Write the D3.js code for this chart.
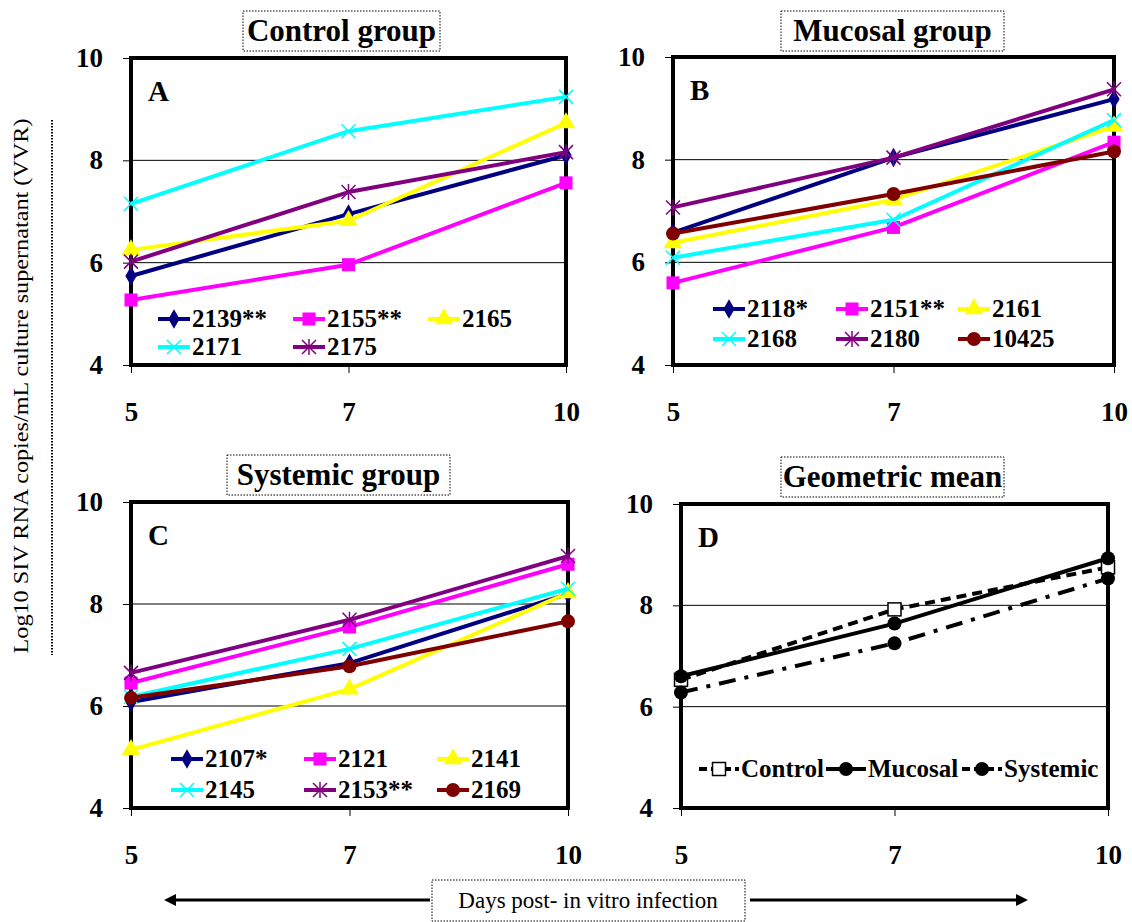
<!DOCTYPE html>
<html>
<head>
<meta charset="utf-8">
<script src="https://cdn.jsdelivr.net/npm/d3@7"></script>
<style>
  html, body { margin: 0; padding: 0; background: #fff; }
  svg { display: block; font-family: "Liberation Serif", "Times New Roman", serif; }
</style>
</head>
<body>
<svg id="chart" width="1132" height="922"></svg>
<script>
// values (log10 copies/mL)
const days = ["5", "7", "10"];
const yTicks = [4, 6, 8, 10];

const controlIds = ["2139**", "2155**", "2165", "2171", "2175"];
const controlValues = [
	[5.74, 6.95, 8.10],
	[5.27, 5.96, 7.56],
	[6.25, 6.82, 8.73],
	[7.15, 8.57, 9.24],
	[6.02, 7.38, 8.16]
];

const mucosalIds = ["2118*", "2151**", "2161", "2168", "2180", "10425"];
const mucosalValues = [
	[6.58, 8.04, 9.18],
	[5.60, 6.68, 8.34],
	[6.38, 7.22, 8.65],
	[6.09, 6.83, 8.77],
	[7.07, 8.04, 9.37],
	[6.56, 7.33, 8.16]
];

const systemicIds = ["2107*", "2121", "2141", "2145", "2153**", "2169"];
const systemicValues = [
	[6.08, 6.84, 8.20],
	[6.45, 7.55, 8.78],
	[5.14, 6.33, 8.22],
	[6.18, 7.12, 8.30],
	[6.65, 7.69, 8.94],
	[6.16, 6.78, 7.66]
];

const meanGroups = ["Control", "Mucosal", "Systemic"];
const meanValues = [
	[6.53, 7.92, 8.75],
	[6.60, 7.64, 8.93],
	[6.28, 7.25, 8.53]
];

// series styles (same order in every group panel)
const styles = [
	{color: "#000080", marker: "diamond"},
	{color: "#ff00ff", marker: "square"},
	{color: "#ffff00", marker: "triangle"},
	{color: "#00ffff", marker: "x"},
	{color: "#800080", marker: "star"},
	{color: "#800000", marker: "circle"}
];
const meanStyles = [
	{color: "#000", marker: "opensquare", dash: "10,6"},
	{color: "#000", marker: "dot", dash: null},
	{color: "#000", marker: "dot", dash: "17,9,4,9"}
];

const svg = d3.select("#chart");

function drawMarker(g, kind, color, cx, cy) {
	if (kind === "diamond") {
		g.append("path").attr("d", d3.symbol(d3.symbolDiamond, 110)())
			.attr("transform", `translate(${cx},${cy})`).attr("fill", color);
	} else if (kind === "square") {
		g.append("path").attr("d", d3.symbol(d3.symbolSquare, 170)())
			.attr("transform", `translate(${cx},${cy})`).attr("fill", color);
	} else if (kind === "triangle") {
		g.append("path").attr("d", d3.symbol(d3.symbolTriangle, 150)())
			.attr("transform", `translate(${cx},${cy})`).attr("fill", color);
	} else if (kind === "circle" || kind === "dot") {
		g.append("circle").attr("cx", cx).attr("cy", cy).attr("r", 7).attr("fill", color);
	} else if (kind === "opensquare") {
		g.append("rect").attr("x", cx - 6.5).attr("y", cy - 6.5).attr("width", 13).attr("height", 13)
			.attr("fill", "#fff").attr("stroke", "#000").attr("stroke-width", 1.5);
	} else {
		// x and star markers are thin strokes
		const r = 7;
		const p = `M${cx - r},${cy - r}L${cx + r},${cy + r}M${cx - r},${cy + r}L${cx + r},${cy - r}` +
			(kind === "star" ? `M${cx},${cy - r - 1}L${cx},${cy + r + 1}` : "");
		g.append("path").attr("d", p).attr("stroke", color).attr("stroke-width", 1.5).attr("fill", "none");
	}
}

function drawPanel(p) {
	const x = d3.scalePoint().domain(days).range([p.left, p.right]).padding(0);
	const y = d3.scaleLinear().domain([4, 10]).range([p.bottom, p.top]);
	const g = svg.append("g");

	// grid lines at 6 and 8
	g.selectAll(".grid").data([6, 8]).join("line")
		.attr("x1", p.left).attr("x2", p.right)
		.attr("y1", d => y(d)).attr("y2", d => y(d))
		.attr("stroke", "#000").attr("stroke-width", 1);

	// axes
	const yAxis = g.append("g").attr("transform", `translate(${p.left},0)`)
		.call(d3.axisLeft(y).tickValues(yTicks).tickSize(8).tickPadding(20).tickFormat(d3.format("d")));
	const xAxis = g.append("g").attr("transform", `translate(0,${p.bottom})`)
		.call(d3.axisBottom(x).tickSize(8).tickPadding(29));
	[yAxis, xAxis].forEach(a => {
		a.select(".domain").remove();
		a.selectAll("line").attr("stroke", "#000");
		a.selectAll("text").attr("fill", "#000")
			.style("font-family", "'Liberation Serif', serif")
			.style("font-weight", "bold").style("font-size", "27px");
	});

	// plot frame (series are drawn over it)
	g.append("rect").attr("x", p.left).attr("y", p.top)
		.attr("width", p.right - p.left).attr("height", p.bottom - p.top)
		.attr("fill", "none").attr("stroke", "#000").attr("stroke-width", 4);

	// series
	const line = d3.line().x((d, i) => x(days[i])).y(d => y(d));
	p.values.forEach((vals, s) => {
		const st = p.styles[s];
		g.append("path").attr("d", line(vals)).attr("fill", "none")
			.attr("stroke", st.color).attr("stroke-width", 4)
			.attr("stroke-dasharray", st.dash || null)
			.attr("stroke-linejoin", "round");
		vals.forEach((v, i) => drawMarker(g, st.marker, st.color, x(days[i]), y(v)));
	});

	// panel letter
	g.append("text").attr("x", p.left + 17).attr("y", p.top + 43)
		.style("font-weight", "bold").style("font-size", "29px").text(p.letter);

	// title with dotted box
	g.append("rect").attr("x", p.titleBox[0]).attr("y", p.titleBox[1])
		.attr("width", p.titleBox[2]).attr("height", p.titleBox[3])
		.attr("fill", "#fff").attr("stroke", "#000").attr("stroke-width", 1)
		.attr("stroke-dasharray", "1.5,1.5");
	g.append("text").attr("x", p.titleBox[0] + p.titleBox[2] / 2).attr("y", p.titleBox[1] + 30)
		.attr("text-anchor", "middle")
		.style("font-weight", "bold").style("font-size", "31px").text(p.title);

	// legend
	p.names.forEach((name, s) => {
		const col = s % p.legend.cols, row = Math.floor(s / p.legend.cols);
		const lx = p.legend.x[col];
		const ly = p.bottom - p.legend.y0 + row * p.legend.dy;
		const st = p.styles[s];
		const lg = g.append("g");
		lg.append("line").attr("x1", lx).attr("x2", lx + p.legend.len)
			.attr("y1", ly - 8).attr("y2", ly - 8)
			.attr("stroke", st.color).attr("stroke-width", 4)
			.attr("stroke-dasharray", st.dash ? "8,4" : null);
		drawMarker(lg, st.marker, st.color, lx + p.legend.len / 2, ly - 8);
		lg.append("text").attr("x", lx + p.legend.len + 2).attr("y", ly)
			.style("font-weight", "bold").style("font-size", "25px").text(name);
	});
}

drawPanel({
	letter: "A", title: "Control group", titleBox: [243, 11, 197, 40],
	left: 131, right: 566, top: 58, bottom: 365,
	names: controlIds, values: controlValues, styles: styles,
	legend: {cols: 3, x: [158, 293, 428], y0: 38, dy: 28, len: 32}
});
drawPanel({
	letter: "B", title: "Mucosal group", titleBox: [781, 11, 223, 40],
	left: 673, right: 1114, top: 57, bottom: 365,
	names: mucosalIds, values: mucosalValues, styles: styles,
	legend: {cols: 3, x: [713, 836, 958], y0: 48, dy: 30, len: 32}
});
drawPanel({
	letter: "C", title: "Systemic group", titleBox: [227, 455, 223, 40],
	left: 131, right: 568, top: 502, bottom: 808,
	names: systemicIds, values: systemicValues, styles: styles,
	legend: {cols: 3, x: [171, 304, 437], y0: 41, dy: 31, len: 32}
});
drawPanel({
	letter: "D", title: "Geometric mean", titleBox: [781, 457, 223, 40],
	left: 681, right: 1108, top: 504, bottom: 808,
	names: meanGroups, values: meanValues, styles: meanStyles,
	legend: {cols: 3, x: [699, 826, 962], y0: 31, dy: 0, len: 40}
});

// shared y-axis title with dotted rule
svg.append("text")
	.attr("transform", "translate(28,386) rotate(-90)")
	.attr("text-anchor", "middle")
	.attr("textLength", 535).attr("lengthAdjust", "spacingAndGlyphs")
	.style("font-size", "22px")
	.text("Log10 SIV RNA copies/mL culture supernatant (VVR)");
svg.append("line").attr("x1", 52).attr("x2", 52).attr("y1", 120).attr("y2", 655)
	.attr("stroke", "#000").attr("stroke-width", 2).attr("stroke-dasharray", "1.5,1.5");

// shared x-axis title between arrows
const arrowY = 900;
svg.append("line").attr("x1", 172).attr("x2", 430).attr("y1", arrowY).attr("y2", arrowY)
	.attr("stroke", "#000").attr("stroke-width", 3);
svg.append("path").attr("d", `M164,${arrowY}L176,${arrowY - 6}L176,${arrowY + 6}Z`).attr("fill", "#000");
svg.append("line").attr("x1", 750).attr("x2", 1020).attr("y1", arrowY).attr("y2", arrowY)
	.attr("stroke", "#000").attr("stroke-width", 3);
svg.append("path").attr("d", `M1028,${arrowY}L1016,${arrowY - 6}L1016,${arrowY + 6}Z`).attr("fill", "#000");
svg.append("rect").attr("x", 432).attr("y", 880).attr("width", 313).attr("height", 41)
	.attr("fill", "#fff").attr("stroke", "#000").attr("stroke-width", 1).attr("stroke-dasharray", "1.5,1.5");
svg.append("text").attr("x", 588).attr("y", 908).attr("text-anchor", "middle")
	.style("font-size", "23px").text("Days post- in vitro infection");
</script>
</body>
</html>
